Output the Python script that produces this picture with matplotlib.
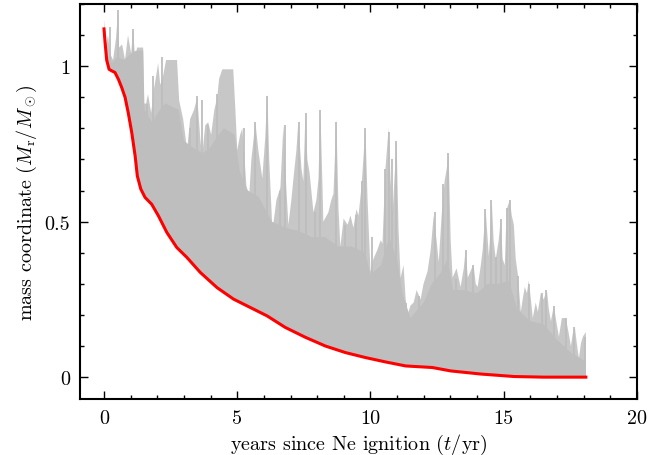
import numpy as np
import matplotlib
matplotlib.use("Agg")
import matplotlib.pyplot as plt
from matplotlib.ticker import MultipleLocator, FixedLocator, FixedFormatter

# lower edge of the convective region (red line): time [yr], mass [Msun]
red_t = [0.00, 0.04, 0.10, 0.19, 0.29, 0.41, 0.54, 0.67, 0.79, 0.91, 1.04,
         1.17, 1.25, 1.38, 1.54, 1.79, 2.04, 2.36, 2.73, 3.11, 3.61, 4.24,
         4.86, 5.49, 6.12, 6.80, 7.56, 8.31, 9.06, 9.81, 10.56, 11.32,
         12.32, 13.01, 14.14, 15.39, 16.5, 18.08]
red_m = [1.12, 1.076, 1.02, 0.99, 0.985, 0.98, 0.958, 0.93, 0.90, 0.85,
         0.787, 0.71, 0.647, 0.605, 0.578, 0.556, 0.519, 0.465, 0.417,
         0.385, 0.337, 0.288, 0.251, 0.224, 0.197, 0.16, 0.128, 0.10,
         0.079, 0.063, 0.049, 0.036, 0.031, 0.020, 0.010, 0.002, 0.0, 0.0]

# dense (solid) part of the convective region, upper edge
base_t = [0.00, 0.10, 0.30, 0.50, 0.75, 1.00, 1.20, 1.47, 1.52, 1.80, 2.10,
          2.30, 2.80, 3.00, 3.30, 3.70, 4.00, 4.30, 4.50, 4.90, 5.10, 5.40,
          5.80, 6.30, 6.80, 7.30, 7.80, 8.30, 8.80, 9.30, 9.80, 10.00,
          10.40, 10.70, 11.00, 11.20, 11.50, 12.00, 12.30, 12.60, 12.90,
          13.10, 13.50, 14.00, 14.40, 14.80, 15.20, 15.50, 16.00, 16.50,
          17.00, 17.50, 18.08]
base_m = [1.12, 1.04, 1.01, 1.03, 1.02, 1.04, 1.05, 1.05, 0.86, 0.82, 0.86,
          0.88, 0.86, 0.76, 0.74, 0.72, 0.74, 0.78, 0.80, 0.78, 0.66, 0.60,
          0.58, 0.50, 0.48, 0.47, 0.45, 0.45, 0.42, 0.42, 0.40, 0.33,
          0.36, 0.45, 0.38, 0.27, 0.19, 0.24, 0.30, 0.33, 0.38,
          0.28, 0.28, 0.27, 0.30, 0.30, 0.31, 0.22, 0.18, 0.17,
          0.12, 0.08, 0.05]

# outer (sparse) upper edge of the convective region
top_t = [0.00, 0.08, 0.15, 0.23, 0.34, 0.45, 0.53, 0.56, 0.68, 0.79, 0.90,
         1.02, 1.09, 1.17, 1.24, 1.47, 1.50, 1.58, 1.65, 1.77, 1.88, 1.96,
         2.03, 2.11, 2.22, 2.33, 2.74, 2.82, 2.97, 3.12, 3.23, 3.38, 3.50,
         3.61, 3.68, 3.80, 3.91, 4.02, 4.14, 4.25, 4.32, 4.44, 4.85, 4.93,
         5.00, 5.11, 5.19, 5.30, 5.41, 5.53, 5.68, 5.79, 5.94, 6.05, 6.13,
         6.20, 6.32, 6.47, 6.62, 6.73, 6.84, 6.92, 7.03, 7.11, 7.22, 7.29,
         7.41, 7.48, 7.56, 7.63, 7.71, 7.86, 7.97, 8.05, 8.12, 8.20, 8.23,
         8.42, 8.53, 8.61, 8.72, 8.80, 8.87, 8.99, 9.14, 9.25, 9.36, 9.47,
         9.55, 9.66, 9.81, 9.89, 10.00, 10.11, 10.26, 10.38, 10.45, 10.56,
         10.68, 10.75, 10.83, 10.90, 10.98, 11.05, 11.13, 11.24, 11.32,
         11.39, 11.50, 11.62, 11.73, 11.88, 11.99, 12.14, 12.26, 12.37,
         12.48, 12.56, 12.67, 12.78, 12.86, 12.93, 13.01, 13.08, 13.23,
         13.38, 13.50, 13.57, 13.65, 13.80, 13.87, 13.95, 14.02, 14.14,
         14.21, 14.32, 14.40, 14.44, 14.51, 14.55, 14.62, 14.70, 14.81,
         14.89, 14.96, 15.04, 15.11, 15.23, 15.30, 15.38, 15.45, 15.53,
         15.64, 15.71, 15.79, 15.87, 15.94, 16.02, 16.09, 16.20, 16.28,
         16.39, 16.50, 16.62, 16.69, 16.77, 16.88, 16.99, 17.07, 17.18,
         17.33, 17.44, 17.52, 17.59, 17.67, 17.74, 17.82, 17.90, 17.97,
         18.08]
top_m = [1.15, 1.07, 1.10, 1.04, 1.02, 1.09, 1.18, 1.06, 1.07, 1.02, 1.10,
         1.04, 1.12, 1.02, 1.06, 1.06, 0.88, 0.88, 0.91, 0.85, 0.93, 0.97,
         1.01, 0.94, 0.97, 1.02, 1.02, 0.89, 0.83, 0.73, 0.83, 0.86, 0.90,
         0.77, 0.71, 0.81, 0.82, 0.78, 0.86, 0.90, 0.96, 0.99, 0.99, 0.86,
         0.73, 0.78, 0.80, 0.67, 0.53, 0.70, 0.82, 0.73, 0.64, 0.77, 0.91,
         0.70, 0.47, 0.57, 0.61, 0.81, 0.61, 0.49, 0.57, 0.64, 0.73, 0.82,
         0.67, 0.63, 0.85, 0.70, 0.66, 0.53, 0.57, 0.64, 0.86, 0.61, 0.50,
         0.53, 0.57, 0.59, 0.83, 0.54, 0.42, 0.51, 0.49, 0.52, 0.48, 0.54,
         0.52, 0.61, 0.80, 0.57, 0.34, 0.38, 0.41, 0.44, 0.43, 0.67,
         0.80, 0.64, 0.53, 0.64, 0.76, 0.48, 0.32, 0.36, 0.25,
         0.20, 0.23, 0.24, 0.28, 0.25, 0.30, 0.34, 0.41, 0.52,
         0.44, 0.37, 0.52, 0.63, 0.67, 0.72, 0.44, 0.32, 0.35,
         0.29, 0.35, 0.41, 0.32, 0.35, 0.36, 0.30, 0.29, 0.36,
         0.41, 0.54, 0.44, 0.39, 0.48, 0.57, 0.44, 0.38, 0.44,
         0.51, 0.38, 0.36, 0.54, 0.57, 0.52, 0.49, 0.38, 0.33,
         0.21, 0.25, 0.29, 0.27, 0.31, 0.25, 0.19, 0.24, 0.21,
         0.27, 0.25, 0.28, 0.22, 0.18, 0.23, 0.17, 0.13, 0.19,
         0.19, 0.14, 0.10, 0.14, 0.16, 0.11, 0.06, 0.11, 0.13,
         0.145]

# thin isolated spikes reaching highest
spike_t = [0.23, 0.54, 1.10, 1.60, 1.85, 2.17, 3.23, 3.48, 3.67, 3.92, 4.24,
           5.24, 5.68, 6.12, 6.62, 6.78, 7.30, 7.58, 7.93, 8.12, 8.71, 9.06,
           9.44, 9.69, 9.81, 10.04, 10.54, 10.69, 10.82, 10.94, 11.32, 11.82,
           12.41, 12.73, 12.91, 13.20, 13.57, 13.86, 14.30, 14.54, 14.70,
           14.90, 15.14, 15.24, 15.54, 15.95, 16.43, 16.60, 16.89, 17.33,
           17.64, 18.05]
spike_m = [1.125, 1.18, 1.12, 0.88, 0.97, 1.03, 0.80, 0.905, 0.89, 0.81, 0.91,
           0.80, 0.82, 0.905, 0.60, 0.81, 0.82, 0.85, 0.53, 0.86, 0.82, 0.49,
           0.52, 0.63, 0.80, 0.45, 0.67, 0.79, 0.70, 0.76, 0.24, 0.26,
           0.53, 0.62, 0.72, 0.315, 0.41, 0.36, 0.54, 0.57, 0.385,
           0.51, 0.545, 0.57, 0.325, 0.30, 0.27, 0.28, 0.23, 0.19,
           0.16, 0.13]

yticks = [0, 0.5, 1]
yticklabels = ["0", "0.5", "1"]

plt.rcParams['font.family'] = 'serif'
plt.rcParams['font.serif'] = ['cmr10', 'DejaVu Serif']
plt.rcParams['mathtext.fontset'] = 'cm'
plt.rcParams['axes.unicode_minus'] = False

fig = plt.figure(figsize=(6.48, 4.56), dpi=100)
ax = fig.add_axes([0.1235, 0.123, 0.8595, 0.866])

grey = '#bebebe'
# sparse outer part (slightly lighter), then dense part
ax.fill(np.concatenate([top_t, red_t[::-1]]), np.concatenate([top_m, red_m[::-1]]),
        color=grey, alpha=0.85, lw=0, zorder=1)
ax.fill(np.concatenate([base_t, red_t[::-1]]), np.concatenate([base_m, red_m[::-1]]),
        color=grey, lw=0, zorder=1)
ax.vlines(spike_t, np.interp(spike_t, red_t, red_m), spike_m,
          color=grey, lw=1.3, zorder=2)

ax.plot(red_t, red_m, color='red', lw=2.2, zorder=3)

ax.set_xlim(-0.9, 20)
ax.set_ylim(-0.07, 1.2)
ax.xaxis.set_major_locator(MultipleLocator(5))
ax.xaxis.set_minor_locator(MultipleLocator(1))
ax.yaxis.set_major_locator(FixedLocator(yticks))
ax.yaxis.set_major_formatter(FixedFormatter(yticklabels))
ax.yaxis.set_minor_locator(MultipleLocator(0.1))
ax.tick_params(which='both', direction='in', top=True, right=True,
               labelsize=14.5, width=1)
ax.tick_params(which='major', length=6, pad=7)
ax.tick_params(which='minor', length=3)
for s in ax.spines.values():
    s.set_linewidth(1.5)

ax.set_xlabel(r"years since Ne ignition ($t/\mathrm{yr}$)", fontsize=14.5)
ax.set_ylabel(r"mass coordinate ($M_\mathrm{r}/M_\odot$)", fontsize=14.5)

fig.savefig("out.png", dpi=100)
